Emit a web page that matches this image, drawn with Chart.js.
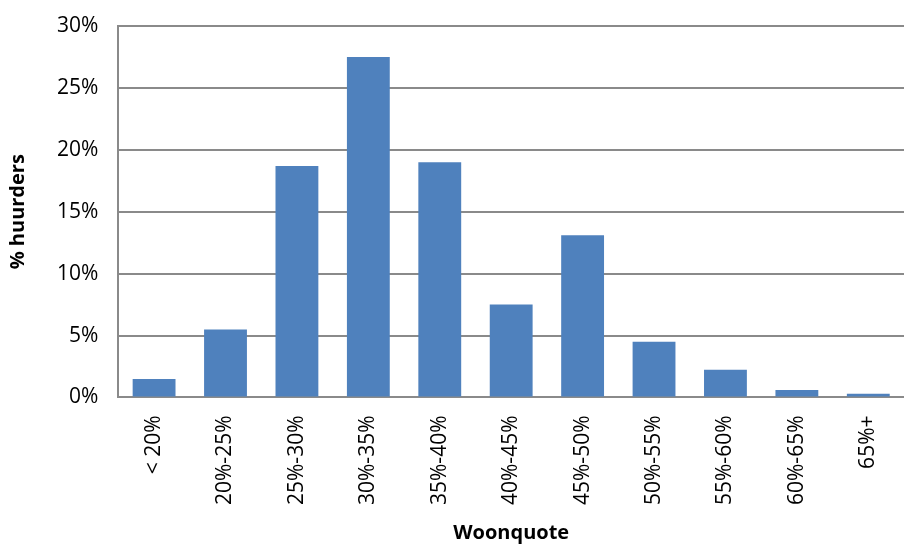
<!DOCTYPE html>
<html>
<head>
<meta charset="utf-8">
<script src="https://cdn.jsdelivr.net/npm/chart.js@4/dist/chart.umd.min.js"></script>
<style>
  html, body { margin: 0; padding: 0; background: #fff; }
  #wrap { width: 904px; height: 545px; }
</style>
</head>
<body>
<div id="wrap"><canvas id="chart-bar"></canvas></div>
<script>
// Chart data
const CATEGORIES = ["< 20%", "20%-25%", "25%-30%", "30%-35%", "35%-40%", "40%-45%",
  "45%-50%", "50%-55%", "55%-60%", "60%-65%", "65%+"];
const HUURDERS = [1.5, 5.5, 18.7, 27.5, 19.0, 7.5, 13.1, 4.5, 2.25, 0.6, 0.3];
const Y_MIN = 0;
const Y_MAX = 30;
const Y_STEP = 5;

const FONT = "'Open Sans', 'Liberation Sans', sans-serif";
const GRID = "#8a8a8a";

const CONFIG = {
  type: "bar",
  data: {
    labels: CATEGORIES,
    datasets: [
      {
        label: "% huurders",
        data: HUURDERS,
        backgroundColor: "#4f81bd",
        borderWidth: 0,
        barPercentage: 0.6,
        categoryPercentage: 1,
      },
    ],
  },
  options: {
    responsive: true,
    maintainAspectRatio: false,
    animation: false,
    layout: {
      padding: { top: 0, right: 0, left: 0, bottom: 0 },
    },
    plugins: {
      legend: { display: false },
      tooltip: { enabled: false },
      title: { display: false },
    },
    scales: {
      x: {
        border: { display: true, color: GRID, width: 2 },
        grid: { display: false },
        ticks: {
          color: "#000",
          font: { family: FONT, size: 21 },
          minRotation: 90,
          maxRotation: 90,
          padding: 10,
        },
        title: {
          display: true,
          text: "Woonquote",
          color: "#000",
          font: { family: FONT, size: 20, weight: "bold" },
          padding: { top: 6, bottom: 0 },
        },
        afterFit: (scale) => {
          scale.paddingTop = 0;
          scale.paddingBottom = 0;
        },
      },
      y: {
        min: Y_MIN,
        max: Y_MAX,
        border: { display: true, color: GRID, width: 2 },
        grid: { color: GRID, lineWidth: 2, drawTicks: false },
        ticks: {
          stepSize: Y_STEP,
          color: "#000",
          font: { family: FONT, size: 21 },
          padding: 20,
          callback: (v) => v + "%",
        },
        title: {
          display: true,
          text: "% huurders",
          color: "#000",
          font: { family: FONT, size: 20, weight: "bold" },
          padding: { top: 6, bottom: 7 },
        },
        afterFit: (scale) => {
          scale.paddingTop = 26;
        },
      },
    },
  },
};

new Chart(document.getElementById("chart-bar"), CONFIG);
</script>
</body>
</html>
